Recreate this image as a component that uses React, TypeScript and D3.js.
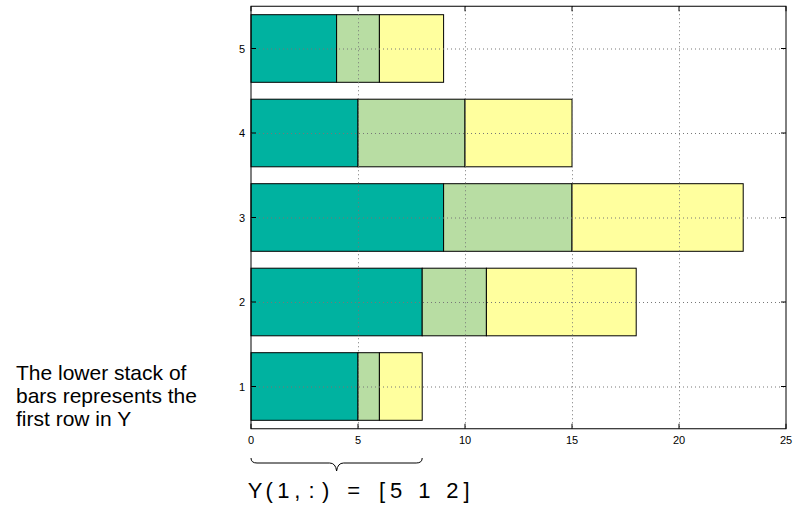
import React from "react";
import * as d3 from "d3";

const rows = [1, 2, 3, 4, 5];
const series1 = [5, 8, 9, 5, 4];
const series2 = [1, 3, 6, 5, 2];
const series3 = [2, 7, 8, 5, 3];
const xTicks = [0, 5, 10, 15, 20, 25];
const colors = ["#00B2A0", "#B8DDA3", "#FFFF9E"];
const noteLines = ["The lower stack of", "bars represents the", "first row in Y"];
const formula = "Y(1,:) = [5 1 2]";

const W = 796, H = 506;
const M = { left: 251, right: 786, top: 6.25, bottom: 428.75 };

export default function App() {
  const x = d3.scaleLinear().domain([0, 25]).range([M.left, M.right]);
  const y = d3.scaleLinear().domain([0.5, 5.5]).range([M.bottom, M.top]);
  const barH = Math.abs(y(0.8) - y(0));
  const stacked = rows.map((r, i) => {
    const vals = [series1[i], series2[i], series3[i]];
    let acc = 0;
    return vals.map((v, k) => {
      const s = { row: r, x0: acc, x1: acc + v, k };
      acc += v;
      return s;
    });
  });
  const tickLen = 5;
  const total1 = series1[0] + series2[0] + series3[0];
  const bx0 = x(0), bx1 = x(total1), bm = (bx0 + bx1) / 2;
  const by0 = 458, by1 = 463, by2 = 471;
  const bp = d3.path();
  bp.moveTo(bx0, by0);
  bp.quadraticCurveTo(bx0, by1, bx0 + 6, by1);
  bp.lineTo(bm - 7, by1);
  bp.quadraticCurveTo(bm - 1, by1, bm, by2);
  bp.quadraticCurveTo(bm + 1, by1, bm + 7, by1);
  bp.lineTo(bx1 - 6, by1);
  bp.quadraticCurveTo(bx1, by1, bx1, by0);

  const font = "'Liberation Sans', Arial, Helvetica, sans-serif";
  const pitch = 14.1;
  const fStart = 248;

  return (
    <svg width={W} height={H} style={{ position: "absolute", left: 0, top: 0 }} fontFamily={font}>
      <rect x={0} y={0} width={W} height={H} fill="#fff" />
      {stacked.map((segs) =>
        segs.map((s) => (
          <rect
            key={`${s.row}-${s.k}`}
            x={x(s.x0)}
            y={y(s.row) - barH / 2}
            width={x(s.x1) - x(s.x0)}
            height={barH}
            fill={colors[s.k]}
            stroke="#000"
            strokeWidth={1}
          />
        ))
      )}
      {xTicks.slice(1, -1).map((t) => (
        <line key={`gx${t}`} x1={x(t) + 0.5} x2={x(t) + 0.5} y1={M.top} y2={M.bottom} stroke="#777" strokeWidth={1} strokeDasharray="1,3" />
      ))}
      {rows.map((r) => (
        <line key={`gy${r}`} x1={M.left} x2={M.right} y1={y(r) + 0.5} y2={y(r) + 0.5} stroke="#777" strokeWidth={1} strokeDasharray="1,3" />
      ))}
      <rect x={M.left} y={M.top} width={M.right - M.left} height={M.bottom - M.top} fill="none" stroke="#000" strokeWidth={1} />
      {xTicks.map((t) => (
        <g key={`tx${t}`}>
          <line x1={x(t)} x2={x(t)} y1={M.bottom} y2={M.bottom - tickLen} stroke="#000" />
          <line x1={x(t)} x2={x(t)} y1={M.top} y2={M.top + tickLen} stroke="#000" />
          <text x={x(t)} y={444} fontSize={11} textAnchor="middle" fill="#000">{t}</text>
        </g>
      ))}
      {rows.map((r) => (
        <g key={`ty${r}`}>
          <line x1={M.left} x2={M.left + tickLen} y1={y(r)} y2={y(r)} stroke="#000" />
          <line x1={M.right} x2={M.right - tickLen} y1={y(r)} y2={y(r)} stroke="#000" />
          <text x={245} y={y(r) + 4} fontSize={11} textAnchor="end" fill="#000">{r}</text>
        </g>
      ))}
      {noteLines.map((l, i) => (
        <text key={i} x={16} y={380 + i * 23} fontSize={21} fill="#000">{l}</text>
      ))}
      <path d={bp.toString()} fill="none" stroke="#000" strokeWidth={1} />
      <text y={498} fontSize={22} fill="#000">
        {formula.split("").map((c, i) => (
          <tspan key={i} x={fStart + i * pitch + pitch / 2} textAnchor="middle">{c === " " ? "\u00a0" : c}</tspan>
        ))}
      </text>
    </svg>
  );
}
